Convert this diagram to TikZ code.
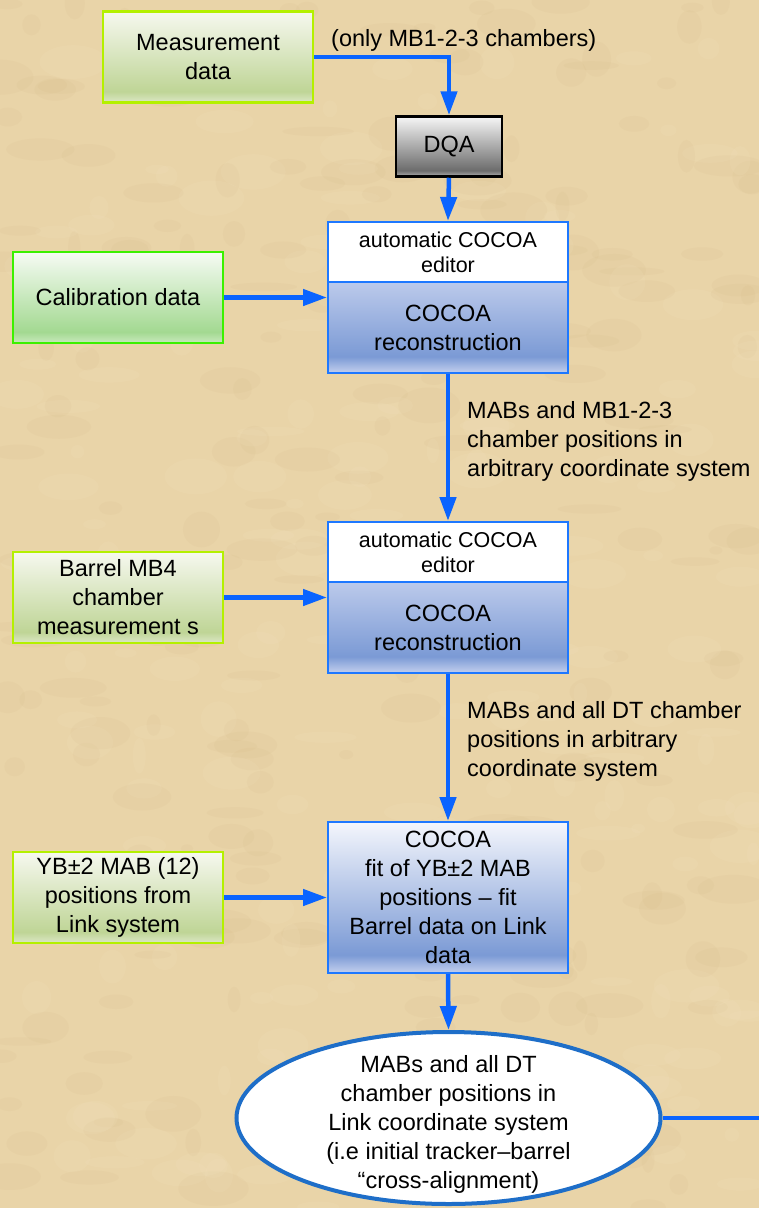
\documentclass[tikz,border=0pt]{standalone}
\usepackage{fontspec}
\setmainfont{Liberation Sans}
\usetikzlibrary{arrows.meta,shapes.geometric,calc}
\definecolor{bg}{HTML}{E9D4A8}
\definecolor{bgdark}{HTML}{C9A874}
\definecolor{bglight}{HTML}{F6E6C4}
\definecolor{arrowblue}{HTML}{0A64FF}
\definecolor{boxblue}{HTML}{1E78FF}
\definecolor{ellblue}{HTML}{1E6EC8}
\definecolor{gyT}{HTML}{F6F8EF}
\definecolor{gyS}{HTML}{BFD596}
\definecolor{gyL}{HTML}{DCE7C6}
\definecolor{gyBorder}{HTML}{B4F000}
\definecolor{gcT}{HTML}{F6FBF4}
\definecolor{gcS}{HTML}{A3D991}
\definecolor{gcL}{HTML}{C9E9BD}
\definecolor{gcBorder}{HTML}{3CF000}
\definecolor{bT}{HTML}{BCCAEB}
\definecolor{bD}{HTML}{7B9AD5}
\definecolor{bL}{HTML}{C4D0EE}
\definecolor{bW}{HTML}{F4F6FC}
\definecolor{dT}{HTML}{F6F6F6}
\definecolor{dD}{HTML}{6C6C6C}
\definecolor{dL}{HTML}{B0B0B0}
\pgfdeclareverticalshading{shGreenY}{100bp}{color(0bp)=(gyL); color(25bp)=(gyL); color(31bp)=(gyS); color(75bp)=(gyT); color(100bp)=(gyT)}
\pgfdeclareverticalshading{shGreenC}{100bp}{color(0bp)=(gcL); color(25bp)=(gcL); color(31bp)=(gcS); color(75bp)=(gcT); color(100bp)=(gcT)}
\pgfdeclareverticalshading{shBlue}{100bp}{color(0bp)=(bL); color(25bp)=(bL); color(34bp)=(bD); color(75bp)=(bT); color(100bp)=(bT)}
\pgfdeclareverticalshading{shBlueFit}{100bp}{color(0bp)=(bL); color(25bp)=(bL); color(31bp)=(bD); color(75bp)=(bW); color(100bp)=(bW)}
\pgfdeclareverticalshading{shGray}{100bp}{color(0bp)=(dL); color(25bp)=(dL); color(30bp)=(dD); color(75bp)=(dT); color(100bp)=(dT)}
\tikzset{
  txt/.style={font=\fontsize{23.5pt}{29pt}\selectfont, align=center, text=black},
  smalltxt/.style={font=\fontsize{21.5pt}{25pt}\selectfont, align=center, text=black},
  box/.style={rectangle, inner sep=0pt, minimum width=240pt},
  greenY/.style={box, txt, minimum width=210pt, minimum height=91pt, draw=gyBorder, line width=2.5pt, shade, shading=shGreenY},
  greenC/.style={box, txt, minimum width=210pt, minimum height=91pt, draw=gcBorder, line width=2.5pt, shade, shading=shGreenC},
  editbox/.style={box, smalltxt, minimum height=60pt, draw=boxblue, line width=2pt, fill=white},
  recbox/.style={box, txt, minimum height=91pt, draw=boxblue, line width=2pt, shade, shading=shBlue},
  fitbox/.style={box, txt, minimum height=151pt, draw=boxblue, line width=2pt, shade, shading=shBlueFit},
  dqabox/.style={box, txt, minimum width=106pt, minimum height=60pt, draw=black, line width=2.5pt, shade, shading=shGray},
  resell/.style={ellipse, txt, inner xsep=0pt, inner ysep=-20pt, minimum width=424pt, minimum height=172pt, draw=ellblue, line width=4pt, fill=white},
  lab/.style={txt, align=left, anchor=west, inner sep=0pt},
  flow/.style={draw=arrowblue, line width=4.5pt, -{Triangle[width=16pt,length=24pt]}},
  flowline/.style={draw=arrowblue, line width=4.5pt}
}
\begin{document}
\begin{tikzpicture}[x=1pt,y=-1pt]
\useasboundingbox (0,0) rectangle (759,1208);
\fill[bg] (0,0) rectangle (759,1208);
\begin{scope}
\clip (0,0) rectangle (759,1208);
\pgfmathsetseed{11}
\foreach \i in {1,...,260} {
  \pgfmathsetmacro{\px}{rnd*759}
  \pgfmathsetmacro{\py}{rnd*1208}
  \pgfmathsetmacro{\ra}{6+rnd*30}
  \pgfmathsetmacro{\rb}{4+rnd*14}
  \fill[bgdark, opacity=0.07] (\px,\py) ellipse ({\ra} and {\rb});
}
\foreach \i in {1,...,200} {
  \pgfmathsetmacro{\px}{rnd*759}
  \pgfmathsetmacro{\py}{rnd*1208}
  \pgfmathsetmacro{\ra}{6+rnd*28}
  \pgfmathsetmacro{\rb}{4+rnd*14}
  \fill[bglight, opacity=0.12] (\px,\py) ellipse ({\ra} and {\rb});
}
\end{scope}

% nodes
\node[greenY] (meas) at (208,57) {Measurement\\data};
\node[dqabox] (dqa) at (449,146.5) {DQA};
\node[editbox] (edit1) at (448,252) {automatic COCOA\\editor};
\node[recbox] (rec1) at (448,327.5) {COCOA\\reconstruction};
\node[greenC] (calib) at (118,297.5) {Calibration data};
\node[editbox] (edit2) at (448,552) {automatic COCOA\\editor};
\node[recbox] (rec2) at (448,627.5) {COCOA\\reconstruction};
\node[greenY] (barrel) at (118,597.5) {Barrel MB4\\chamber\\measurement s};
\node[fitbox] (fit) at (448,897.5) {COCOA\\fit of YB±2 MAB\\positions – fit\\Barrel data on Link\\data};
\node[greenY] (yb) at (118,897.5) {YB±2 MAB (12)\\positions from\\Link system};
\node[resell] (ell) at (448.5,1118) {\\MABs and all DT\\chamber positions in\\Link coordinate system\\(i.e initial tracker–barrel\\“cross-alignment)};
\coordinate (out) at (759,1118);

% labels
\node[lab] (only) at (331,40) {(only MB1-2-3 chambers)};
\node[lab] (lab1) at (467,441) {MABs and MB1-2-3\\chamber positions in\\arbitrary coordinate system};
\node[lab] (lab2) at (467,741) {MABs and all DT chamber\\positions in arbitrary\\coordinate system};

% connectors
\draw[flow] (meas.east) -| (dqa.north);
\draw[flow] (dqa.south) -- (edit1.north);
\draw[flow] (calib.east) -- (calib.east -| rec1.west);
\draw[flow] (rec1.south) -- (edit2.north);
\draw[flow] (barrel.east) -- (barrel.east -| rec2.west);
\draw[flow] (rec2.south) -- (fit.north);
\draw[flow] (yb.east) -- (fit.west);
\draw[flow] (fit.south) -- (ell.north);
\draw[flowline] (ell.east) -- (out);
\end{tikzpicture}
\end{document}
